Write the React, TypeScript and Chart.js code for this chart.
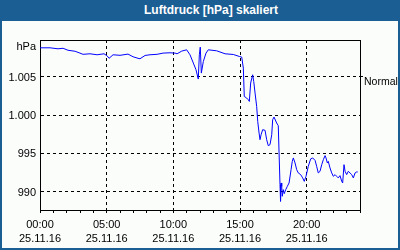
import React, { useEffect, useRef } from "react";
import { Chart, registerables } from "chart.js";

Chart.register(...registerables);

// ---- data (hours since 25.11.16 00:00, pressure in hPa) ----
const hours: number[] = [
  0.0, 0.75, 1.35, 1.73, 2.1, 2.63, 3.23, 3.75, 4.28, 4.8, 5.03, 5.18, 5.48, 6.0, 6.6, 6.98,
  7.35, 7.5, 7.88, 8.25, 8.78, 9.23, 9.75, 10.13, 10.28, 10.63, 11.0, 11.25, 11.5, 11.7, 11.87,
  11.95, 12.02, 12.1, 12.25, 12.45, 12.62, 13.25, 13.88, 14.5, 14.95, 15.13, 15.25, 15.32, 15.5,
  15.62, 15.7, 15.8, 15.95, 16.03, 16.13, 16.25, 16.33, 16.43, 16.5, 16.58, 16.7, 16.88, 17.0,
  17.12, 17.25, 17.38, 17.45, 17.55, 17.75, 17.87, 17.93, 18.0, 18.04, 18.08, 18.13, 18.17,
  18.25, 18.32, 18.43, 18.55, 18.68, 18.83, 18.92, 19.0, 19.13, 19.25, 19.37, 19.55, 19.7,
  19.82, 19.95, 20.12, 20.3, 20.45, 20.63, 20.75, 20.87, 21.0, 21.13, 21.25, 21.38, 21.45,
  21.55, 21.62, 21.75, 21.88, 22.0, 22.13, 22.25, 22.37, 22.5, 22.63, 22.7, 22.8, 22.88, 23.0,
  23.12, 23.25, 23.38, 23.5, 23.63, 23.75, 23.83,
];
const pressure: number[] = [
  1008.78, 1008.78, 1008.65, 1008.72, 1008.46, 1008.33, 1007.93, 1008.0, 1007.87, 1008.0,
  1007.74, 1007.41, 1007.87, 1007.8, 1007.96, 1007.61, 1007.41, 1007.35, 1007.78, 1007.87,
  1007.93, 1008.09, 1008.13, 1008.09, 1008.0, 1008.35, 1008.52, 1007.87, 1006.79, 1005.91,
  1004.7, 1007.87, 1008.87, 1005.48, 1007.0, 1008.09, 1008.52, 1008.39, 1008.0, 1007.91,
  1007.65, 1007.57, 1006.13, 1002.43, 1002.22, 1002.0, 1001.78, 1004.18, 1005.26, 1004.39,
  1002.87, 1001.13, 999.17, 997.66, 996.78, 997.43, 998.09, 998.0, 996.78, 996.0, 996.13,
  997.43, 999.39, 999.74, 998.96, 998.61, 995.05, 990.91, 988.74, 991.13, 990.69, 989.39,
  990.26, 989.74, 990.26, 990.69, 991.13, 992.87, 993.95, 994.4, 993.74, 992.87, 992.44,
  992.22, 991.79, 991.34, 992.0, 993.3, 994.27, 994.4, 994.08, 993.3, 992.44, 992.65, 993.52,
  994.17, 994.7, 994.4, 993.74, 993.95, 993.09, 992.44, 992.0, 992.22, 992.0, 991.79, 992.09,
  991.34, 991.13, 993.52, 992.65, 992.22, 992.65, 992.44, 992.22, 991.79, 992.44, 992.57,
  992.57,
];

const yTickValues: number[] = [990, 995, 1000, 1005];
const yTickLabels: string[] = ["990", "995", "1.000", "1.005"];
const normalValue = 1005;
const normalLabel = "Normal";
const unitLabel = "hPa";
const xMajorHours: number[] = [0, 5, 10, 15, 20];
const xMajorTimes: string[] = ["00:00", "05:00", "10:00", "15:00", "20:00"];
const xDateLabel = "25.11.16";
const xMinorHours: number[] = [
  0, 1, 2, 3, 4, 5, 6, 7, 8, 9, 10, 11, 12, 13, 14, 15, 16, 17, 18, 19, 20, 21, 22, 23, 24,
];
const titleText = "Luftdruck [hPa] skaliert";

const FONT = '"Liberation Sans", Arial, sans-serif';

export default function App() {
  const ref = useRef<HTMLCanvasElement | null>(null);

  useEffect(() => {
    if (!ref.current) return;
    const framePlugin = {
      id: "frame",
      afterDraw(chart: any) {
        const { ctx, chartArea } = chart;
        ctx.save();
        ctx.strokeStyle = "#000";
        ctx.lineWidth = 1;
        ctx.beginPath();
        ctx.moveTo(chartArea.left, Math.round(chartArea.top) + 0.5);
        ctx.lineTo(chartArea.right + 1, Math.round(chartArea.top) + 0.5);
        ctx.stroke();
        ctx.fillStyle = "#000";
        ctx.font = "11px " + FONT;
        ctx.textAlign = "right";
        ctx.textBaseline = "middle";
        ctx.fillText(unitLabel, chartArea.left - 4, chartArea.top + 7);
        ctx.restore();
      },
    };
    const chart = new Chart(ref.current, {
      type: "line",
      data: {
        datasets: [
          {
            data: hours.map((h, i) => ({ x: h, y: pressure[i] })),
            borderColor: "#0000ff",
            borderWidth: 1,
            pointRadius: 0,
            tension: 0,
            fill: false,
            yAxisID: "y",
          },
        ],
      },
      options: {
        animation: false,
        responsive: false,
        layout: { padding: { top: 40, left: 0, right: 0, bottom: 0 } },
        plugins: { legend: { display: false }, tooltip: { enabled: false }, title: { display: false } },
        scales: {
          x: {
            type: "linear",
            min: 0,
            max: 24,
            afterBuildTicks: (s: any) => {
              s.ticks = xMinorHours.map((v) => ({ value: v }));
            },
            afterFit: (s: any) => {
              s.height = 40;
            },
            ticks: {
              autoSkip: false,
              maxRotation: 0,
              minRotation: 0,
              padding: 5,
              color: "#000",
              font: { family: FONT, size: 11, lineHeight: "14px" } as any,
              callback: (v: any) => {
                const idx = xMajorHours.indexOf(Number(v));
                return idx >= 0 ? [xMajorTimes[idx], xDateLabel] : "";
              },
            },
            grid: {
              drawTicks: true,
              tickLength: 3,
              tickColor: "#000",
              tickBorderDash: [],
              lineWidth: 1,
              color: (ctx: any) => {
                const v = ctx.tick ? ctx.tick.value : -1;
                return v > 0 && v < 24 && v % 5 === 0 ? "#000" : "rgba(0,0,0,0)";
              },
            },
            border: { display: true, color: "#000", width: 1, dash: [3, 3] },
          },
          y: {
            type: "linear",
            position: "left",
            min: 987.6,
            max: 1009.8,
            afterBuildTicks: (s: any) => {
              s.ticks = yTickValues.map((v) => ({ value: v }));
            },
            afterFit: (s: any) => {
              s.width = 40;
            },
            ticks: {
              padding: 4,
              labelOffset: 1,
              color: "#000",
              font: { family: FONT, size: 11 },
              callback: (v: any) => {
                const idx = yTickValues.indexOf(Number(v));
                return idx >= 0 ? yTickLabels[idx] : "";
              },
            },
            grid: { drawTicks: false, color: "#000", lineWidth: 1 },
            border: { display: true, color: "#000", width: 1, dash: [3, 3] },
          },
          y2: {
            type: "linear",
            position: "right",
            min: 987.6,
            max: 1009.8,
            afterBuildTicks: (s: any) => {
              s.ticks = [{ value: normalValue }];
            },
            afterFit: (s: any) => {
              s.width = 40;
            },
            ticks: {
              padding: 1,
              labelOffset: 5,
              color: "#000",
              font: { family: FONT, size: 10.5 },
              callback: () => normalLabel,
            },
            grid: {
              drawOnChartArea: false,
              drawTicks: true,
              tickLength: 3,
              tickColor: "#000",
              color: "#000",
            },
            border: { display: true, color: "#000", width: 1 },
          },
        },
      } as any,
      plugins: [framePlugin],
    });
    return () => chart.destroy();
  }, []);

  return (
    <div
      style={{
        position: "fixed",
        left: 0,
        top: 0,
        width: 400,
        height: 250,
        background: "#1b5e93",
        overflow: "hidden",
      }}
    >
      <div
        style={{
          position: "absolute",
          left: 0,
          top: 0,
          width: 400,
          height: 20,
          lineHeight: "20px",
          textAlign: "center",
          paddingLeft: 22,
          boxSizing: "border-box",
          color: "#fff",
          fontFamily: FONT,
          fontWeight: "bold",
          fontSize: 12,
        }}
      >
        {titleText}
      </div>
      <div
        style={{
          position: "absolute",
          left: 2,
          top: 21,
          width: 396,
          height: 227,
          background: "#fbfdfb",
        }}
      />
      <canvas
        ref={ref}
        width={400}
        height={250}
        style={{ position: "absolute", left: 0, top: 0, width: 400, height: 250 }}
      />
    </div>
  );
}
